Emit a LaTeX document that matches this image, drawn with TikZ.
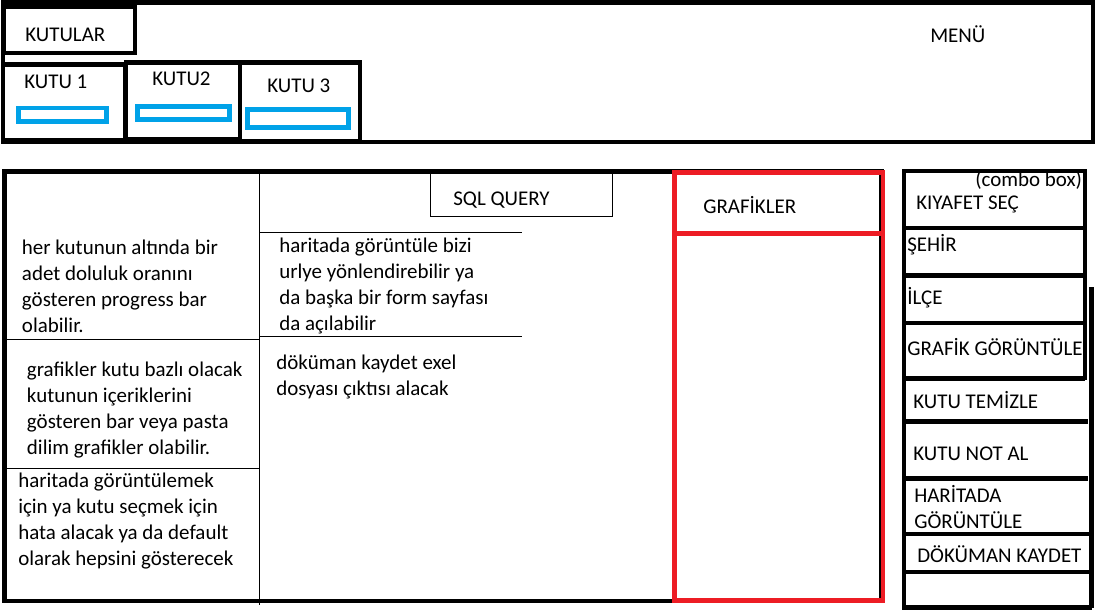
\documentclass[tikz,border=0pt]{standalone}
\usepackage{fontspec}
\setmainfont{Carlito}
\usetikzlibrary{positioning}

\definecolor{barblue}{RGB}{0,162,232}
\definecolor{chartred}{RGB}{237,28,36}

\begin{document}
\begin{tikzpicture}[x=0.025cm, y=-0.025cm]
        % Define styles for shapes
        \tikzstyle{blackframe} = [draw, line width=3.5pt]
        \tikzstyle{thinline} = [draw, line width=0.7pt]
        \tikzstyle{bar} = [draw=barblue, line width=3.3pt]
        \tikzstyle{redframe} = [draw=chartred, line width=3.5pt]
        \tikzstyle{boxtext} = [anchor=base west, inner sep=0pt, font={\fontsize{14.9}{18.5}\selectfont}]
        \tikzstyle{notetext} = [anchor=north west, inner sep=0pt, align=left, font={\fontsize{14.9}{18.5}\selectfont}]
        \useasboundingbox (0,0) rectangle (1097,613);

        % Menu area with the boxes
        \draw[blackframe] (3,2.5) rectangle (1093,142);
        \draw[blackframe] (4,7) rectangle (135,53);
        \draw[blackframe] (3,64.5) rectangle (125,140);
        \draw[blackframe] (126,62.5) rectangle (240,139);
        \draw[blackframe] (240,62.5) rectangle (360,141);
        % progress bars under the boxes
        \draw[bar] (18.5,108) rectangle (106.5,121.5);
        \draw[bar] (137.5,106.5) rectangle (229.5,119.5);
        \draw[bar] (247.5,109.5) rectangle (348.5,127.5);

        \node[boxtext] (kutular) at (25,41) {KUTULAR};
        \node[boxtext] (kutu1) at (24,88) {KUTU 1};
        \node[boxtext] (kutu2) at (152,85) {KUTU2};
        \node[boxtext] (kutu3) at (267,92.5) {KUTU 3};
        \node[boxtext] (menu) at (930,42.5) {MEN\"U};

        % Lower area
        \draw[blackframe] (4.5,171.5) rectangle (881.5,601);
        \draw[thinline] (259.3,172) -- (259.3,605);
        \draw[thinline] (7,339) -- (259.3,339);
        \draw[thinline] (7,468) -- (259.3,468);
        \draw[thinline] (259.3,232.7) -- (521.7,232.7);
        \draw[thinline] (259.3,336.7) -- (521.7,336.7);
        \draw[thinline] (430,173) rectangle (612.3,216.3);
        % chart column
        \draw[redframe] (674.5,172.5) rectangle (883,600.5);
        \draw[redframe] (674.5,233.5) -- (883,233.5);

        \node[boxtext] (sql) at (453,205) {SQL QUERY};
        \node[boxtext] (grafikler) at (703,213) {GRAF\.IKLER};

        \node[notetext] (note1) at (21.7,235.8) {\strut her kutunun altında bir\\adet doluluk oranını\\gösteren progress bar\\olabilir.};
        \node[notetext] (note2) at (26.7,357.8) {\strut grafikler kutu bazlı olacak\\kutunun içeriklerini\\gösteren bar veya pasta\\dilim grafikler olabilir.};
        \node[notetext] (note3) at (18,468.8) {\strut haritada görüntülemek\\için ya kutu seçmek için\\hata alacak ya da default\\olarak hepsini gösterecek};
        \node[notetext] (note4) at (279,233.8) {\strut haritada görüntüle bizi\\urlye yönlendirebilir ya\\da başka bir form sayfası\\da açılabilir};
        \node[notetext] (note5) at (276,350.8) {\strut döküman kaydet exel\\dosyası çıktısı alacak};

        % Button column
        \draw[blackframe] (1091.5,607.5) -- (904,607.5) -- (904,171) -- (1085,171) -- (1085,380);
        \draw[blackframe] (1091.5,287) -- (1091.5,607.5);
        \draw[blackframe] (904,228) -- (1085,228);
        \draw[blackframe] (904,275.5) -- (1085,275.5);
        \draw[blackframe] (904,323) -- (1085,323);
        \draw[blackframe] (904,378.5) -- (1085,378.5);
        \draw[blackframe] (904,421.5) -- (1088,421.5);
        \draw[blackframe] (904,478.5) -- (1088,478.5);
        \draw[blackframe] (904,534) -- (1091.5,534);
        \draw[blackframe] (904,572) -- (1091.5,572);

        \node[boxtext] (combo) at (975,186) {(combo box)};
        \node[boxtext] (kiyafet) at (916,209) {KIYAFET SEÇ};
        \node[boxtext] (sehir) at (907,251) {ŞEH\.IR};
        \node[boxtext] (ilce) at (907,304) {\.ILÇE};
        \node[boxtext] (grafik) at (907,355) {GRAF\.IK GÖRÜNTÜLE};
        \node[boxtext] (temizle) at (913,408) {KUTU TEM\.IZLE};
        \node[boxtext] (notal) at (913,460) {KUTU NOT AL};
        \node[notetext] (harita) at (914,483.8) {\strut HAR\.ITADA\\GÖRÜNTÜLE};
        \node[boxtext] (kaydet) at (917,562) {DÖKÜMAN KAYDET};
    \end{tikzpicture}
\end{document}
